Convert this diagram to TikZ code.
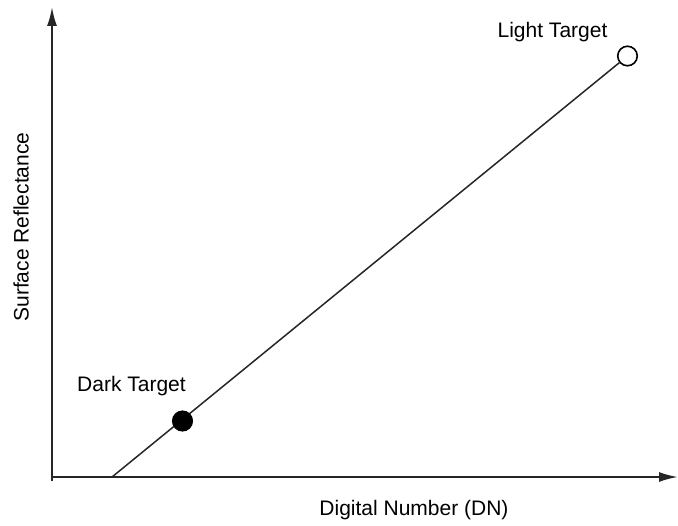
\documentclass[tikz,border=0pt]{standalone}
\usepackage{fontspec}
\setmainfont{Liberation Sans}
\usetikzlibrary{arrows.meta, positioning}

\begin{document}
\begin{tikzpicture}[x=1pt, y=-1pt, font=\fontsize{21}{25}\selectfont,
    axis/.style={line width=2pt, draw=black!85, -{Latex[length=19pt, width=10pt]}},
    target/.style={circle, draw, line width=1.6pt, minimum size=19.5pt, inner sep=0pt}]
  \useasboundingbox (0,0) rectangle (678,526);
  \coordinate (o) at (51,477);
  \coordinate (ybot) at (52,481);
  \coordinate (ytop) at (52,7);
  \coordinate (xend) at (678,477);
  \coordinate (start) at (112,477);
  \node [target, fill=white] (light) at (627.5,56) {};
  \node (lightlbl) at (552.5,32) {Light Target};
  \draw [line width=1.5pt, black!85] (start) -- (light);
  \node [target, fill=black] (dark) at (182.5,421) {};
  \node (darklbl) at (131.5,386) {Dark Target};
  \draw [axis] (ybot) -- (ytop);
  \draw [axis] (o) -- (xend);
  \node [rotate=90] (ylbl) at (21,227) {Surface Reflectance};
  \node (xlbl) at (414,510) {Digital Number (DN)};
\end{tikzpicture}
\end{document}
